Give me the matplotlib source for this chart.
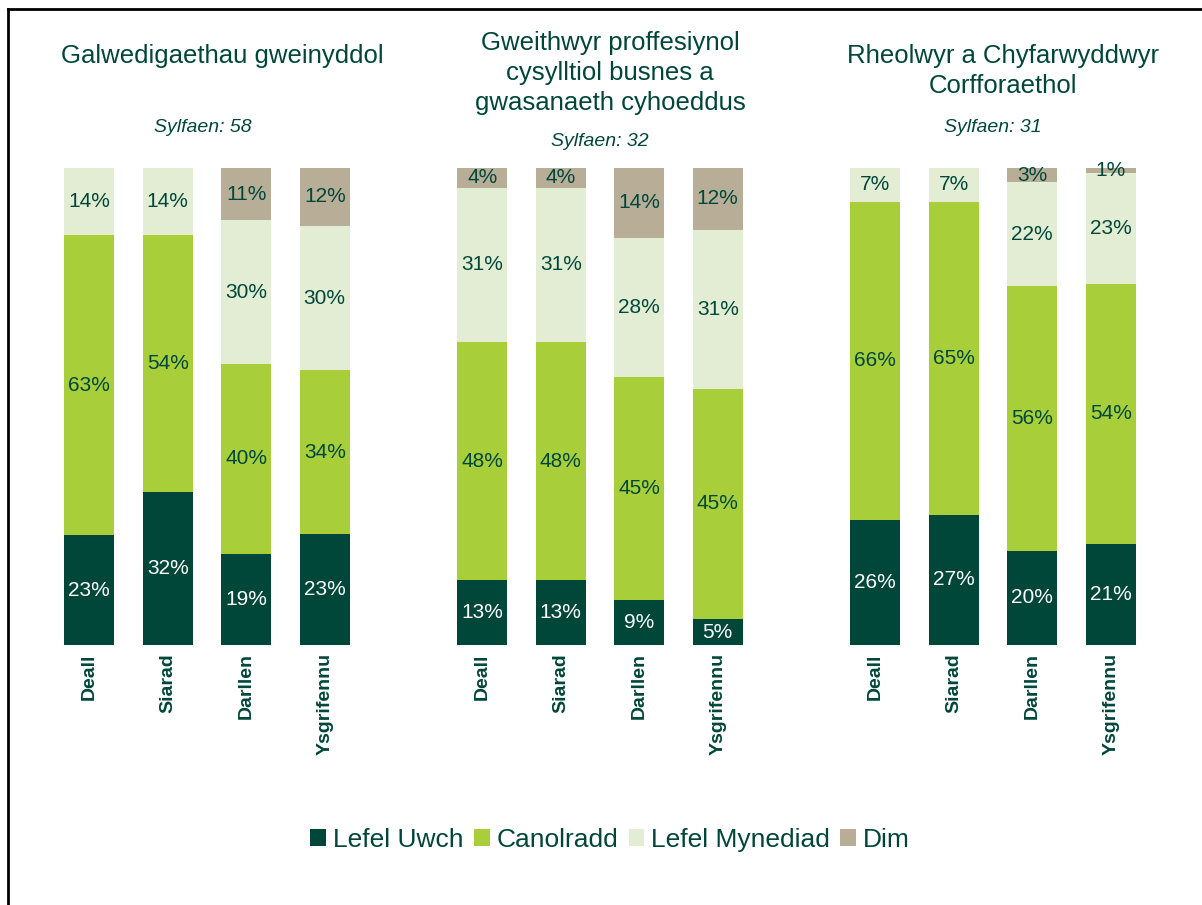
import matplotlib.pyplot as plt
import numpy as np
from matplotlib.lines import Line2D
from matplotlib.patches import Patch

plt.rcParams["font.family"] = ["Liberation Sans", "DejaVu Sans"]

# data (percent labels as printed; each bar normalised to 100%)
skills = ["Deall", "Siarad", "Darllen", "Ysgrifennu"]
levels = ["Lefel Uwch", "Canolradd", "Lefel Mynediad", "Dim"]
panel_titles = [
    "Galwedigaethau gweinyddol",
    "Gweithwyr proffesiynol\ncysylltiol busnes a\ngwasanaeth cyhoeddus",
    "Rheolwyr a Chyfarwyddwyr\nCorfforaethol",
]
bases = [58, 32, 31]

# rows = skills, cols = levels
admin = [[23, 63, 14, 0], [32, 54, 14, 0], [19, 40, 30, 11], [23, 34, 30, 12]]
business = [[13, 48, 31, 4], [13, 48, 31, 4], [9, 45, 28, 14], [5, 45, 31, 12]]
managers = [[26, 66, 7, 0], [27, 65, 7, 0], [20, 56, 22, 3], [21, 54, 23, 1]]
panels = [admin, business, managers]

colors = ["#00473A", "#A8CE3A", "#E2EDD3", "#B8AE98"]
text_green = "#00473A"

W, H = 1202, 905
fig = plt.figure(figsize=(W / 100, H / 100), dpi=100)

ax_left = [50, 443, 836]
ax_w = 314
bar_top, bar_bot = 168, 645
title_x = [222, 610, 1003]
title_y = [56, 73, 71]
sub_x = [203, 600, 993]
sub_y = [127, 141, 127]

for p, data in enumerate(panels):
    ax = fig.add_axes([ax_left[p] / W, 1 - bar_bot / H, ax_w / W, (bar_bot - bar_top) / H])
    vals = np.array(data, dtype=float)
    norm = vals / vals.sum(axis=1, keepdims=True) * 100
    x = np.arange(len(skills))
    bottom = np.zeros(len(skills))
    for j in range(len(levels)):
        ax.bar(x, norm[:, j], 0.64, bottom=bottom, color=colors[j], linewidth=0)
        for i in range(len(skills)):
            if vals[i, j] > 0:
                ax.text(x[i], bottom[i] + norm[i, j] / 2, f"{int(vals[i, j])}%",
                        ha="center", va="center", fontsize=15,
                        color="white" if j == 0 else text_green)
        bottom += norm[:, j]
    ax.set_xlim(-0.5, 3.5)
    ax.set_ylim(0, 100)
    ax.set_xticks(x)
    ax.set_xticklabels(skills, rotation=90, fontsize=14, fontweight="bold", color=text_green)
    ax.tick_params(axis="x", length=0, pad=6)
    ax.set_yticks([])
    for s in ax.spines.values():
        s.set_visible(False)

    fig.text(title_x[p] / W, 1 - title_y[p] / H, panel_titles[p], ha="center", va="center",
             fontsize=18.5, color=text_green, linespacing=1.33)
    fig.text(sub_x[p] / W, 1 - sub_y[p] / H, f"Sylfaen: {bases[p]}",
             ha="center", va="center", fontsize=14, style="italic", color=text_green)

handles = [Patch(facecolor=c, edgecolor="none") for c in colors]
fig.legend(handles, levels, loc="center", bbox_to_anchor=(610 / W, 1 - 840 / H), ncol=4,
           frameon=False, fontsize=19, handlelength=0.6, handleheight=0.6,
           handletextpad=0.25, columnspacing=0.4, labelcolor=text_green)

# partial frame (left and top edges)
fig.add_artist(Line2D([8 / W, 8 / W], [0, 1 - 9 / H], color="black", lw=2))
fig.add_artist(Line2D([8 / W, 1], [1 - 9 / H, 1 - 9 / H], color="black", lw=2))

fig.savefig("out.png", dpi=100)
